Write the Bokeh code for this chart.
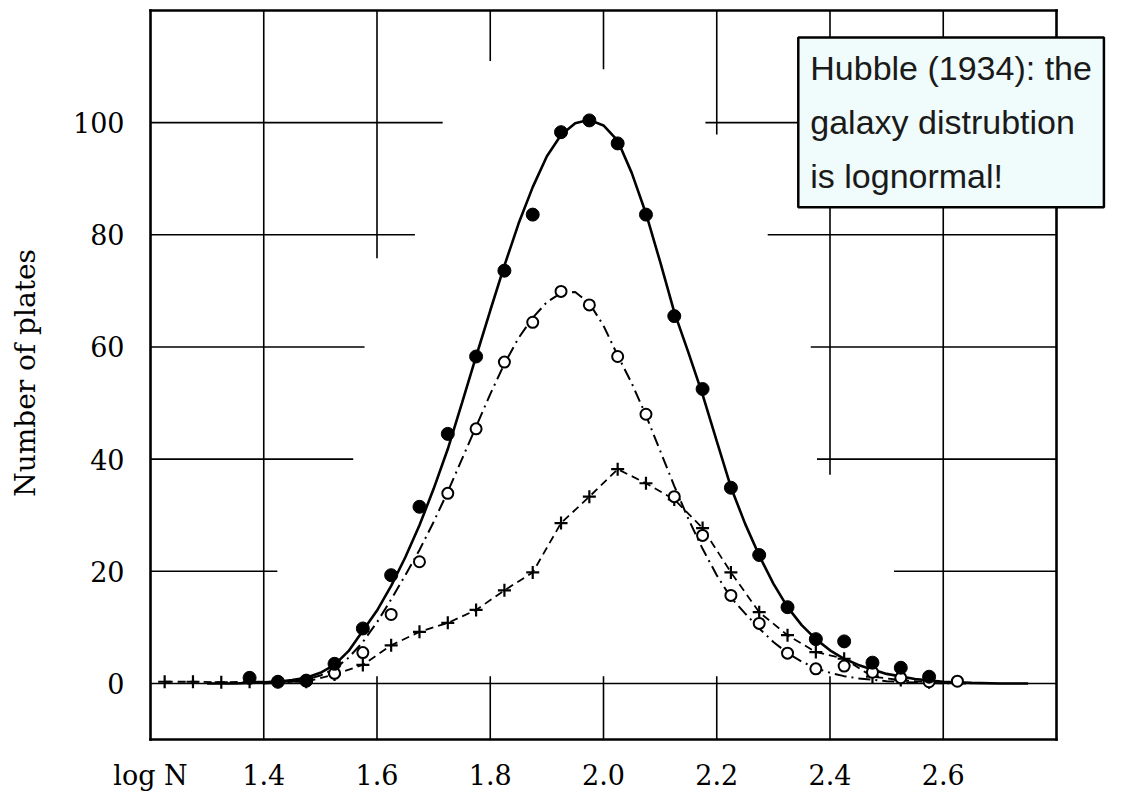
from bokeh.plotting import figure
from bokeh.models import Range1d, FixedTicker, Label
from bokeh.embed import file_html
from bokeh.resources import INLINE

# ---- data: number of plates against log N ----
# all plates (filled circles)
all_x = [1.375, 1.425, 1.475, 1.525, 1.575, 1.625, 1.675, 1.725, 1.775, 1.825,
         1.875, 1.925, 1.975, 2.025, 2.075, 2.125, 2.175, 2.225, 2.275, 2.325,
         2.375, 2.425, 2.475, 2.525, 2.575]
all_y = [1.0, 0.3, 0.5, 3.5, 9.8, 19.3, 31.5, 44.5, 58.3, 73.6,
         83.6, 98.3, 100.4, 96.3, 83.6, 65.5, 52.5, 34.9, 22.9, 13.6,
         7.9, 7.5, 3.7, 2.8, 1.2]

# smooth curve drawn through the filled circles
all_fit_x = [1.30, 1.35, 1.375, 1.40, 1.425, 1.45, 1.475, 1.50, 1.525, 1.55,
             1.575, 1.60, 1.625, 1.65, 1.675, 1.70, 1.725, 1.75, 1.775, 1.80,
             1.825, 1.85, 1.875, 1.90, 1.925, 1.95, 1.975, 2.00, 2.025, 2.05,
             2.075, 2.10, 2.125, 2.15, 2.175, 2.20, 2.225, 2.25, 2.275, 2.30,
             2.325, 2.35, 2.375, 2.40, 2.425, 2.45, 2.50, 2.55, 2.60, 2.65,
             2.70, 2.75]
all_fit_y = [0.0, 0.0, 0.1, 0.2, 0.3, 0.6, 1.0, 1.9, 3.3, 5.8,
             9.4, 13.0, 17.4, 22.5, 28.2, 34.7, 41.8, 50.0, 58.3, 66.5,
             74.5, 82.0, 88.5, 94.0, 97.8, 99.9, 100.5, 99.5, 96.8, 91.0,
             83.8, 75.2, 66.2, 59.0, 51.5, 43.2, 35.0, 28.5, 22.8, 17.8,
             13.6, 10.4, 7.9, 5.9, 4.4, 3.3, 1.7, 0.8, 0.3, 0.1,
             0.0, 0.0]

# second group (open circles)
open_x = [1.475, 1.525, 1.575, 1.625, 1.675, 1.725, 1.775, 1.825, 1.875, 1.925,
          1.975, 2.025, 2.075, 2.125, 2.175, 2.225, 2.275, 2.325, 2.375, 2.425,
          2.475, 2.525, 2.575, 2.625]
open_y = [0.5, 1.8, 5.5, 12.3, 21.7, 33.9, 45.4, 57.3, 64.4, 69.9,
          67.5, 58.3, 48.0, 33.3, 26.4, 15.7, 10.7, 5.4, 2.6, 3.1,
          2.0, 1.0, 0.3, 0.4]

# dash-dot curve through the open circles
open_fit_x = [1.40, 1.45, 1.475, 1.50, 1.525, 1.55, 1.575, 1.60, 1.625, 1.65,
              1.675, 1.70, 1.725, 1.75, 1.775, 1.80, 1.825, 1.85, 1.875, 1.90,
              1.925, 1.95, 1.975, 2.00, 2.025, 2.05, 2.075, 2.10, 2.125, 2.15,
              2.175, 2.20, 2.225, 2.25, 2.275, 2.30, 2.325, 2.35, 2.375, 2.40,
              2.425, 2.45, 2.50, 2.55, 2.60, 2.65]
open_fit_y = [0.0, 0.3, 0.7, 1.4, 2.6, 4.6, 7.4, 10.9, 15.0, 19.3,
              23.8, 28.8, 34.2, 40.0, 45.8, 51.6, 57.0, 61.6, 65.2, 68.0,
              69.6, 69.8, 67.8, 63.8, 58.5, 53.5, 47.8, 41.5, 35.2, 29.3,
              24.0, 19.3, 15.3, 12.5, 9.8, 7.4, 5.4, 3.9, 2.7, 1.9,
              1.3, 0.9, 0.4, 0.15, 0.05, 0.0]

# third group (crosses), joined by a dashed line
cross_x = [1.225, 1.275, 1.325, 1.375, 1.425, 1.475, 1.525, 1.575, 1.625, 1.675,
           1.725, 1.775, 1.825, 1.875, 1.925, 1.975, 2.025, 2.075, 2.125, 2.175,
           2.225, 2.275, 2.325, 2.375, 2.425, 2.475, 2.525, 2.575]
cross_y = [0.3, 0.3, 0.2, 0.3, 0.3, 0.3, 1.6, 3.3, 6.8, 9.2,
           10.8, 13.1, 16.6, 19.8, 28.6, 33.3, 38.2, 35.7, 32.8, 27.7,
           19.8, 12.7, 8.6, 5.6, 4.4, 1.2, 0.6, 0.2]

x_ticks = [1.2, 1.4, 1.6, 1.8, 2.0, 2.2, 2.4, 2.6]
x_tick_text = ["log N", "1.4", "1.6", "1.8", "2.0", "2.2", "2.4", "2.6"]
y_ticks = [0, 20, 40, 60, 80, 100]

# printed chart area and its broken ruling: (level, start, end)
X_LO, X_HI, Y_LO, Y_HI = 1.2, 2.8, -10, 120
h_rules = [(0, 1.2, 2.8),
           (20, 1.2, 1.424), (20, 2.513, 2.8),
           (40, 1.2, 1.558), (40, 2.377, 2.8),
           (60, 1.2, 1.578), (60, 2.366, 2.8),
           (80, 1.2, 1.667), (80, 2.29, 2.8),
           (100, 1.2, 1.716), (100, 2.18, 2.8)]
v_rules = [(1.4, -10, 120), (2.6, -10, 120),
           (1.6, 75.8, 120), (1.6, -10, 1.3),
           (1.8, 111.0, 120), (1.8, -10, 1.3),
           (2.0, 109.5, 120), (2.0, -10, 1.3),
           (2.2, 97.9, 120), (2.2, -10, 1.3),
           (2.4, 37.2, 120), (2.4, -10, 1.3)]

SERIF = "DejaVu Serif"

# the plotting frame reaches the right and top edges so the note box fits
p = figure(width=1122, height=793, output_backend="svg", toolbar_location=None,
           x_range=Range1d(1.1894, 2.91656), y_range=Range1d(-11.067, 121.78),
           min_border_left=144, min_border_right=0,
           min_border_top=0, min_border_bottom=46)

p.background_fill_color = "white"
p.border_fill_color = "white"
p.outline_line_color = None
p.xgrid.visible = False
p.ygrid.visible = False

for ax in (p.xaxis[0], p.yaxis[0]):
    ax.axis_line_color = None
    ax.major_tick_line_color = None
    ax.minor_tick_line_color = None
    ax.major_label_text_font = SERIF
    ax.major_label_text_font_size = "27px"
    ax.major_label_text_color = "black"

p.xaxis.ticker = FixedTicker(ticks=x_ticks)
p.xaxis.major_label_overrides = dict(zip(x_ticks, x_tick_text))
p.xaxis.major_label_standoff = 8
p.yaxis.ticker = FixedTicker(ticks=y_ticks)
p.yaxis.major_label_standoff = 14
p.yaxis.axis_label = "Number of plates"
p.yaxis.axis_label_text_font = SERIF
p.yaxis.axis_label_text_font_style = "normal"
p.yaxis.axis_label_text_font_size = "28px"
p.yaxis.axis_label_text_color = "black"
p.yaxis.axis_label_standoff = 28

# printed border
p.segment(x0=[X_LO, X_HI, X_LO, X_LO], y0=[Y_LO, Y_LO, Y_LO, Y_HI],
          x1=[X_LO, X_HI, X_HI, X_HI], y1=[Y_HI, Y_HI, Y_LO, Y_HI],
          line_color="black", line_width=2.6, line_cap="square")

# ruling
p.segment(x0=[r[1] for r in h_rules], y0=[r[0] for r in h_rules],
          x1=[r[2] for r in h_rules], y1=[r[0] for r in h_rules],
          line_color="black", line_width=1.6)
p.segment(x0=[r[0] for r in v_rules], y0=[r[1] for r in v_rules],
          x1=[r[0] for r in v_rules], y1=[r[2] for r in v_rules],
          line_color="black", line_width=1.6)

# curves
p.line(all_fit_x, all_fit_y, line_color="black", line_width=2.6)
p.line(open_fit_x, open_fit_y, line_color="black", line_width=2.0,
       line_dash="12 5 2 5")
p.line(cross_x, cross_y, line_color="black", line_width=1.8, line_dash="8 5")

# points
p.scatter(cross_x, cross_y, marker="cross", size=13, line_color="black",
          line_width=2.2)
p.scatter(open_x, open_y, marker="circle", size=11, fill_color="white",
          line_color="black", line_width=2.0)
p.scatter(all_x, all_y, marker="circle", size=13, fill_color="black",
          line_color="black")

# note box
p.add_layout(Label(x=2.344, y=115.2, anchor="top_left",
                   text="Hubble (1934): the\ngalaxy distrubtion\nis lognormal!",
                   text_font="Liberation Sans", text_font_size="34px",
                   text_color="#1a1a1a", text_line_height=1.42,
                   padding=12,
                   background_fill_color="#f0fbfb",
                   border_line_color="black", border_line_width=2.5))

open("out.html", "w").write(file_html(p, INLINE))
